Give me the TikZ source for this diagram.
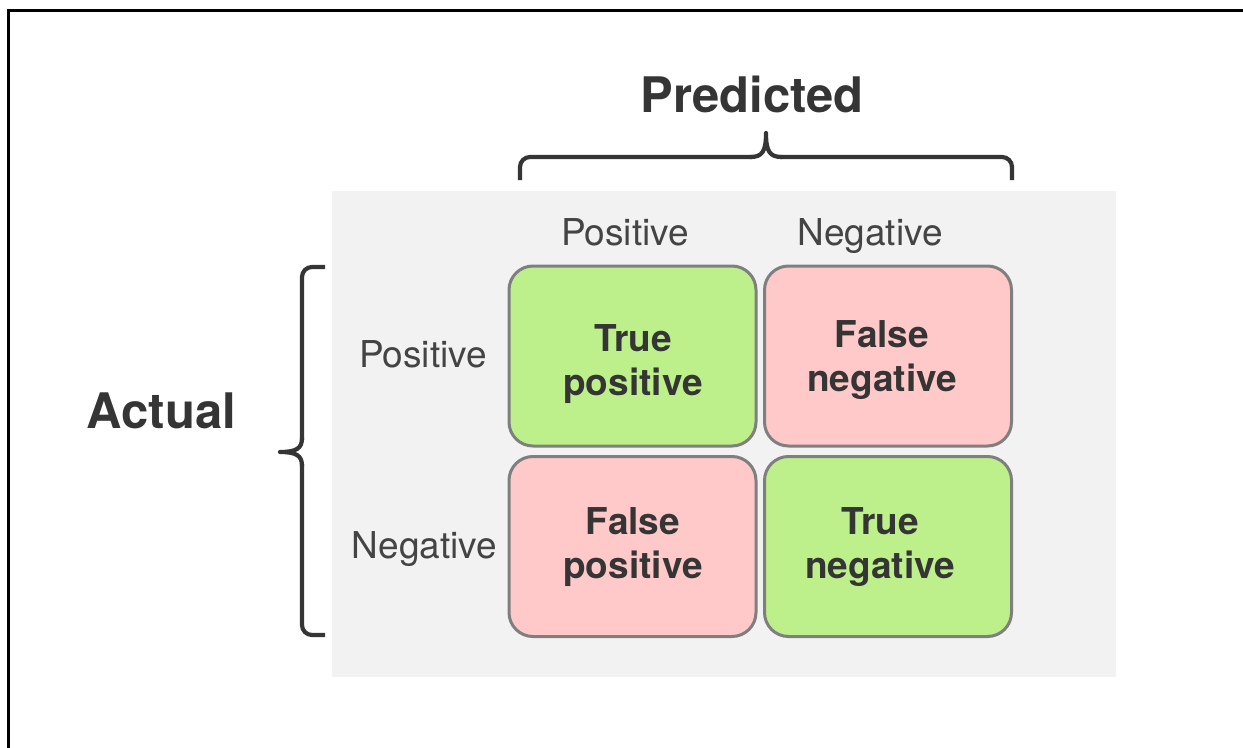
\documentclass[tikz,border=0pt]{standalone}
\usepackage{fontspec}
\setmainfont{TeX Gyre Heros}
\definecolor{panel}{HTML}{F2F2F2}
\definecolor{cellgreen}{HTML}{BDF08A}
\definecolor{cellpink}{HTML}{FFC9C9}
\definecolor{cellborder}{HTML}{7F7F7F}
\definecolor{ink}{HTML}{353535}
\definecolor{labelink}{HTML}{444444}
\begin{document}
\begin{tikzpicture}[x=1bp,y=-1bp,
  cell/.style={draw=cellborder, line width=3bp, rounded corners=24bp,
    minimum width=247bp, minimum height=180bp, inner sep=0pt},
  celltext/.style={text=ink, align=center, font=\fontsize{37bp}{44bp}\selectfont\bfseries},
  axislabel/.style={text=labelink, anchor=base, font=\fontsize{37bp}{42bp}\selectfont},
  title/.style={text=ink, anchor=base, font=\fontsize{49bp}{56bp}\selectfont\bfseries},
  bracestyle/.style={draw=ink, line width=4.2bp, line cap=butt, line join=round}]
\useasboundingbox (0,0) rectangle (1243,748);
\fill[white] (0,0) rectangle (1243,748);
% outer frame: only its top and left edges are in view
\fill[black] (6.5,9.5) rectangle (1243,12.5);
\fill[black] (6.5,9.5) rectangle (9.5,748);
% grey panel
\node[fill=panel, minimum width=784bp, minimum height=486bp, inner sep=0pt] (panel) at (724,434) {};
% cells
\node[cell, fill=cellgreen] (tp) at (632.5,356) {};
\node[cell, fill=cellpink]  (fn) at (888,356) {};
\node[cell, fill=cellpink]  (fp) at (632.5,546.5) {};
\node[cell, fill=cellgreen] (tn) at (888,546.5) {};
\node[celltext] (tptext) at (633,364) {True\\positive};
\node[celltext] (fntext) at (882,360) {False\\negative};
\node[celltext] (fptext) at (633,547.5) {False\\positive};
\node[celltext] (tntext) at (880,547.5) {True\\negative};
% axis labels
\node[axislabel] (ppos) at (625,245) {Positive};
\node[axislabel] (pneg) at (870,245) {Negative};
\node[axislabel] (apos) at (423,367) {Positive};
\node[axislabel] (aneg) at (424.5,558) {Negative};
% titles
\node[title] (pred) at (752,113) {Predicted};
\node[title] (act) at (161.5,428) {Actual};
% top brace
\coordinate (tbl) at (520,180);
\coordinate (tbr) at (1012,180);
\coordinate (tbtip) at (766,133);
\draw[bracestyle, rounded corners=10bp] (tbl) -- (520,157) -- (752,157);
\draw[bracestyle, rounded corners=10bp] (tbr) -- (1012,157) -- (780,157);
\draw[bracestyle] (750,157) .. controls (762,157) and (766,152) .. (tbtip)
  .. controls (766,152) and (770,157) .. (782,157);
% left brace
\coordinate (lbt) at (325,267);
\coordinate (lbb) at (325,635);
\coordinate (lbtip) at (280,452);
\draw[bracestyle, rounded corners=10bp] (lbt) -- (302,267) -- (302,440);
\draw[bracestyle, rounded corners=10bp] (lbb) -- (302,635) -- (302,464);
\draw[bracestyle] (302,438) .. controls (302,448) and (297,452) .. (lbtip)
  .. controls (297,452) and (302,456) .. (302,466);
\end{tikzpicture}
\end{document}
